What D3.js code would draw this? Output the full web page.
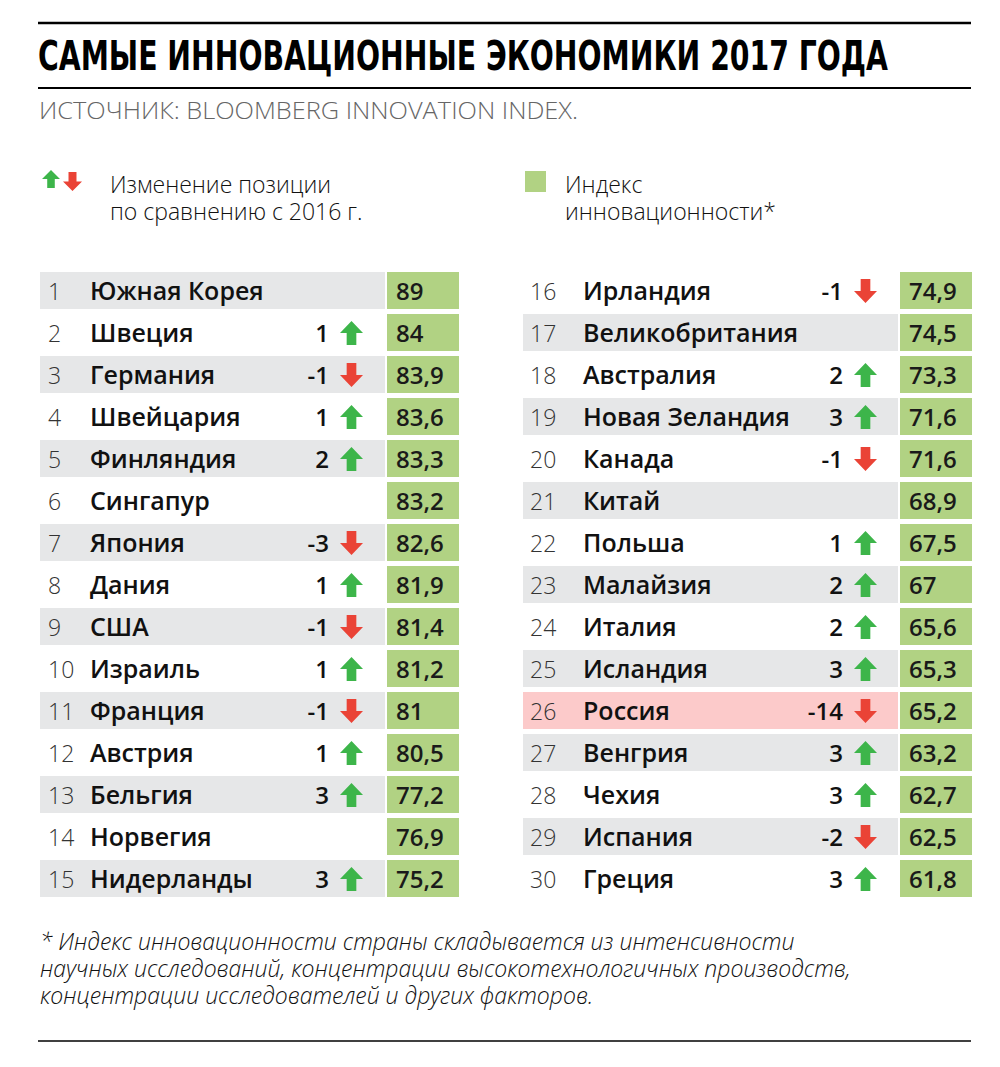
<!DOCTYPE html>
<html>
<head>
<meta charset="utf-8">
<script src="https://cdn.jsdelivr.net/npm/d3@7"></script>
<style>
  body { margin: 0; background: #fff; }
  svg { display: block; }
  .name, .chg { font-family: "Open Sans", Lato, sans-serif; font-weight: 600; fill: #111; }
  .rank { font-family: "Open Sans", sans-serif; font-weight: 300; fill: #333; }
  .val { font-family: "Open Sans", sans-serif; font-weight: 600; fill: #1a1a1a; }
  .legend { font-family: "Open Sans", sans-serif; font-weight: 300; fill: #111; }
</style>
</head>
<body>
<div id="chart"></div>
<script>
var countries = ["Южная Корея", "Швеция", "Германия", "Швейцария", "Финляндия", "Сингапур", "Япония", "Дания", "США", "Израиль",
  "Франция", "Австрия", "Бельгия", "Норвегия", "Нидерланды", "Ирландия", "Великобритания", "Австралия", "Новая Зеландия", "Канада",
  "Китай", "Польша", "Малайзия", "Италия", "Исландия", "Россия", "Венгрия", "Чехия", "Испания", "Греция"];
var changes = [null, 1, -1, 1, 2, null, -3, 1, -1, 1,
  -1, 1, 3, null, 3, -1, null, 2, 3, -1,
  null, 1, 2, 2, 3, -14, 3, 3, -2, 3];
var index = [89, 84, 83.9, 83.6, 83.3, 83.2, 82.6, 81.9, 81.4, 81.2,
  81, 80.5, 77.2, 76.9, 75.2, 74.9, 74.5, 73.3, 71.6, 71.6,
  68.9, 67.5, 67, 65.6, 65.3, 65.2, 63.2, 62.7, 62.5, 61.8];
var highlight = "Россия";

var width = 1000, height = 1067;
var green = "#b1d283", grey = "#e6e7e8", pink = "#fccaca";
var up = "#3db54a", down = "#ea4336";

var rows = countries.map(function(c, i) {
  return { rank: i + 1, name: c, change: changes[i], value: index[i] };
});

var svg = d3.select("#chart").append("svg")
  .attr("width", width)
  .attr("height", height);

// header
svg.append("line").attr("x1", 38).attr("x2", 971).attr("y1", 23).attr("y2", 23)
  .attr("stroke", "#000").attr("stroke-width", 2.5);
svg.append("text")
  .attr("transform", "translate(38,70) scale(1,1.2)")
  .attr("textLength", 850).attr("lengthAdjust", "spacingAndGlyphs")
  .style("font-family", "'DejaVu Sans Condensed', 'DejaVu Sans', sans-serif")
  .style("font-weight", 700).style("font-size", "34px").style("fill", "#000")
  .text("САМЫЕ ИННОВАЦИОННЫЕ ЭКОНОМИКИ 2017 ГОДА");
svg.append("line").attr("x1", 38).attr("x2", 971).attr("y1", 88).attr("y2", 88)
  .attr("stroke", "#000").attr("stroke-width", 2);
svg.append("text")
  .attr("x", 39).attr("y", 119)
  .attr("textLength", 539).attr("lengthAdjust", "spacingAndGlyphs")
  .style("font-family", "'Open Sans', sans-serif").style("font-weight", 300)
  .style("font-size", "24px").style("fill", "#666")
  .text("ИСТОЧНИК: BLOOMBERG INNOVATION INDEX.");

function arrowPath(x, y, w, h, dir) {
  // x,y = top-left, dir 1 = up, -1 = down
  var hw = w / 2, head = h * 0.5, stem = w * 0.42;
  var cx = x + hw;
  var pts;
  if (dir > 0) {
    pts = [[cx, y], [x + w, y + head], [cx + stem / 2, y + head], [cx + stem / 2, y + h],
      [cx - stem / 2, y + h], [cx - stem / 2, y + head], [x, y + head]];
  } else {
    pts = [[cx, y + h], [x + w, y + h - head], [cx + stem / 2, y + h - head], [cx + stem / 2, y],
      [cx - stem / 2, y], [cx - stem / 2, y + h - head], [x, y + h - head]];
  }
  return d3.line()(pts) + "Z";
}

// legend
svg.append("path").attr("d", arrowPath(42, 170, 18, 18, 1)).attr("fill", up);
svg.append("path").attr("d", arrowPath(63, 172, 19, 19, -1)).attr("fill", down);
var legendLeft = ["Изменение позиции", "по сравнению с 2016 г."];
var legendRight = ["Индекс", "инновационности*"];
svg.selectAll(".lg1").data(legendLeft).enter().append("text")
  .attr("class", "legend").style("font-size", "23px")
  .attr("x", 110).attr("y", function(d, i) { return 193 + i * 27; })
  .text(function(d) { return d; });

svg.append("rect").attr("x", 525).attr("y", 171).attr("width", 21).attr("height", 21).attr("fill", green);
svg.selectAll(".lg2").data(legendRight).enter().append("text")
  .attr("class", "legend").style("font-size", "23px")
  .attr("x", 565).attr("y", function(d, i) { return 193 + i * 27; })
  .text(function(d) { return d; });

// table
var y = d3.scaleBand().domain(d3.range(15)).range([272, 897]).paddingInner(5 / 42);

var cols = [
  { rows: rows.slice(0, 15), x0: 40, x1: 385, rankX: 48, nameX: 90, chgX: 329, arrowX: 340, boxX: 387, boxW: 72 },
  { rows: rows.slice(15), x0: 523, x1: 898, rankX: 530, nameX: 583, chgX: 843, arrowX: 854, boxX: 900, boxW: 72 }
];

cols.forEach(function(col) {
  var g = svg.append("g");
  var row = g.selectAll(".row")
    .data(col.rows)
    .enter().append("g")
    .attr("class", "row")
    .attr("transform", function(d, i) { return "translate(0," + y(i) + ")"; });

  row.append("rect")
    .attr("x", col.x0)
    .attr("width", col.x1 - col.x0)
    .attr("height", y.bandwidth())
    .attr("fill", function(d) {
      if (d.name === highlight) return pink;
      return d.rank % 2 === 1 ? grey : "none";
    });

  row.append("rect")
    .attr("x", col.boxX)
    .attr("width", col.boxW)
    .attr("height", y.bandwidth())
    .attr("fill", green);

  var ty = y.bandwidth() / 2 + 9;

  row.append("text")
    .attr("class", "rank")
    .attr("x", col.rankX)
    .attr("y", ty)
    .style("font-size", "23px")
    .text(function(d) { return d.rank; });

  row.append("text")
    .attr("class", "name")
    .attr("x", col.nameX)
    .attr("y", ty)
    .style("font-size", "25px")
    .text(function(d) { return d.name; });

  row.filter(function(d) { return d.change !== null; })
    .append("text")
    .attr("class", "chg")
    .attr("x", col.chgX)
    .attr("y", ty)
    .attr("text-anchor", "end")
    .style("font-size", "24px")
    .text(function(d) { return d.change; });

  row.filter(function(d) { return d.change !== null; })
    .append("path")
    .attr("d", function(d) { return arrowPath(col.arrowX, 7, 23, 24, d.change > 0 ? 1 : -1); })
    .attr("fill", function(d) { return d.change > 0 ? up : down; });

  row.append("text")
    .attr("class", "val")
    .attr("x", col.boxX + 9)
    .attr("y", ty)
    .style("font-size", "24px")
    .text(function(d) { return String(d.value).replace(".", ","); });
});

// footnote
var footnote = ["* Индекс инновационности страны складывается из интенсивности",
  "научных исследований, концентрации высокотехнологичных производств,",
  "концентрации исследователей и других факторов."];
svg.selectAll(".fn").data(footnote).enter().append("text")
  .attr("x", 40).attr("y", function(d, i) { return 950 + i * 27; })
  .style("font-family", "'Open Sans', sans-serif").style("font-weight", 300)
  .style("font-style", "italic").style("font-size", "23px").style("fill", "#111")
  .text(function(d) { return d; });

svg.append("line").attr("x1", 38).attr("x2", 971).attr("y1", 1041).attr("y2", 1041)
  .attr("stroke", "#000").attr("stroke-width", 1.5);
</script>
</body>
</html>
